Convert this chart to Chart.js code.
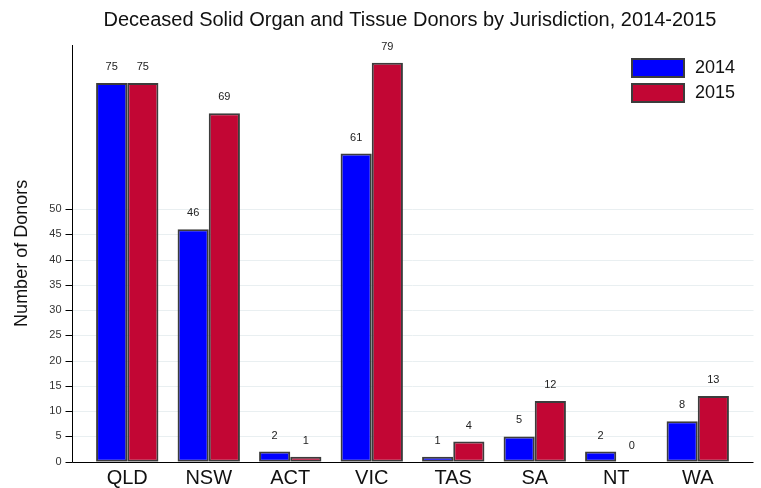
<!DOCTYPE html>
<html>
<head>
<meta charset="utf-8">
<script src="https://cdn.jsdelivr.net/npm/chart.js@4/dist/chart.umd.min.js"></script>
<style>
html,body{margin:0;padding:0;background:#fff;}
#wrap{width:761px;height:488px;position:relative;}
</style>
</head>
<body>
<div id="wrap"><canvas id="c" width="761" height="488"></canvas></div>
<script>
const chartTitle = 'Deceased Solid Organ and Tissue Donors by Jurisdiction, 2014-2015';
const categories = ['QLD', 'NSW', 'ACT', 'VIC', 'TAS', 'SA', 'NT', 'WA'];
const seriesNames = ['2014', '2015'];
const donors2014 = [75, 46, 2, 61, 1, 5, 2, 8];
const donors2015 = [75, 69, 1, 79, 4, 12, 0, 13];
const yTicks = [0, 5, 10, 15, 20, 25, 30, 35, 40, 45, 50];
const yAxisTitle = 'Number of Donors';

const FONT = "'Liberation Sans', Arial, sans-serif";
const colors = ['#0000FF', '#C20634'];
const borderCol = '#3c3c3c';

const decor = {
  id: 'decor',
  beforeDatasetsDraw(chart) {
    const ctx = chart.ctx, ca = chart.chartArea, y = chart.scales.y;
    const axX = ca.left - 14.5, rightEnd = ca.right + 15;
    ctx.save();
    ctx.strokeStyle = '#e9eff1';
    ctx.lineWidth = 1;
    yTicks.forEach(v => {
      if (v === 0) return;
      const py = Math.round(y.getPixelForValue(v)) + 0.5;
      ctx.beginPath(); ctx.moveTo(axX, py); ctx.lineTo(rightEnd, py); ctx.stroke();
    });
    ctx.restore();
  },
  afterDatasetsDraw(chart) {
    const ctx = chart.ctx, ca = chart.chartArea, y = chart.scales.y;
    const axX = Math.round(ca.left - 14.5) + 0.5, rightEnd = ca.right + 15;
    ctx.save();
    ctx.strokeStyle = '#000';
    ctx.lineWidth = 1;
    const y0 = Math.round(y.getPixelForValue(0)) + 0.5;
    ctx.beginPath(); ctx.moveTo(axX, ca.top); ctx.lineTo(axX, y0); ctx.lineTo(rightEnd, y0); ctx.stroke();
    yTicks.forEach(v => {
      const py = Math.round(y.getPixelForValue(v)) + 0.5;
      ctx.beginPath(); ctx.moveTo(axX - 7, py); ctx.lineTo(axX, py); ctx.stroke();
    });
    // value labels
    ctx.fillStyle = '#222';
    ctx.font = '11px ' + FONT;
    ctx.textAlign = 'center';
    ctx.textBaseline = 'middle';
    chart.data.datasets.forEach((ds, di) => {
      const meta = chart.getDatasetMeta(di);
      meta.data.forEach((bar, i) => {
        ctx.fillText(String(ds.data[i]), bar.x, bar.y - 16);
      });
    });
    // title
    ctx.fillStyle = '#111';
    ctx.font = '20px ' + FONT;
    ctx.fillText(chartTitle, 410, 20);
    // legend
    ctx.textAlign = 'left';
    chart.data.datasets.forEach((ds, di) => {
      const by = 59 + di * 25;
      ctx.fillStyle = ds.backgroundColor;
      ctx.fillRect(632, by, 52, 18);
      ctx.strokeStyle = borderCol;
      ctx.lineWidth = 2;
      ctx.strokeRect(632, by, 52, 18);
      ctx.fillStyle = '#111';
      ctx.font = '18px ' + FONT;
      ctx.fillText(ds.label, 695, by + 9.5);
    });
    ctx.restore();
  }
};

new Chart(document.getElementById('c'), {
  type: 'bar',
  data: {
    labels: categories,
    datasets: [
      { label: seriesNames[0], data: donors2014, backgroundColor: colors[0] },
      { label: seriesNames[1], data: donors2015, backgroundColor: colors[1] }
    ]
  },
  options: {
    responsive: false,
    animation: false,
    layout: { padding: { top: 45, right: 22.5, left: 0, bottom: 0 } },
    datasets: {
      bar: {
        categoryPercentage: 0.765,
        barPercentage: 1,
        borderColor: borderCol,
        borderWidth: ctx => (ctx.raw === 0 ? 0 : 2),
        borderSkipped: false
      }
    },
    plugins: { legend: { display: false }, title: { display: false }, tooltip: { enabled: false } },
    scales: {
      x: {
        grid: { display: false, drawTicks: false },
        border: { display: false },
        ticks: { color: '#111', font: { family: FONT, size: 20 }, padding: 5 },
        afterFit(scale) { scale.height = 26.3; }
      },
      y: {
        min: 0,
        max: 82.5,
        grid: { display: false, drawTicks: false },
        border: { display: false },
        afterBuildTicks(scale) { scale.ticks = yTicks.map(v => ({ value: v })); },
        ticks: { color: '#333', font: { family: FONT, size: 11 }, padding: 25, autoSkip: false },
        title: { display: true, text: yAxisTitle, color: '#111', font: { family: FONT, size: 18 }, padding: 11 },
        afterFit(scale) { scale.width = 86.5; scale.paddingTop = 0; scale.paddingBottom = 0; }
      }
    }
  },
  plugins: [decor]
});
</script>
</body>
</html>
